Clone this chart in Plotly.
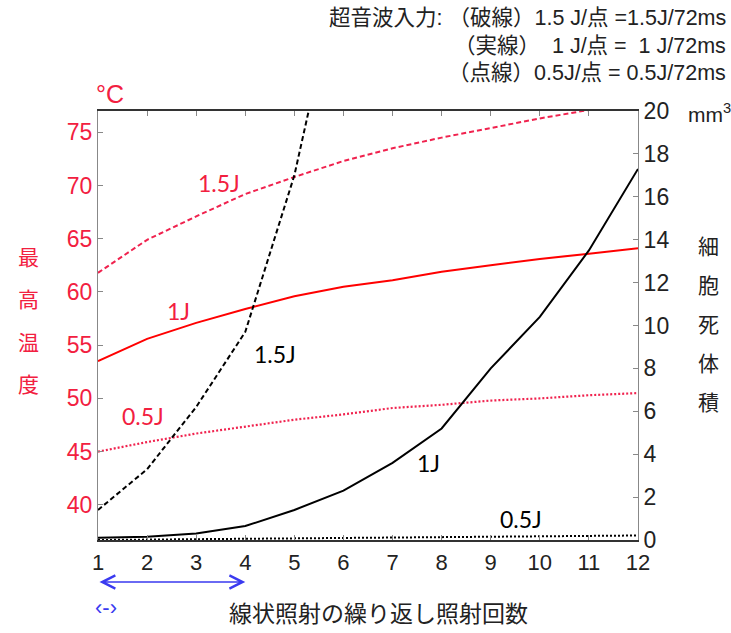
import plotly.graph_objects as go

# ---- data ----
shots = [1, 2, 3, 4, 5, 6, 7, 8, 9, 10, 11, 12]
temp_15J = [61.8, 64.9, 67.1, 69.2, 70.8, 72.3, 73.5, 74.5, 75.4, 76.3, 77.1, 77.8]
temp_10J = [53.5, 55.6, 57.1, 58.4, 59.6, 60.5, 61.1, 61.9, 62.5, 63.1, 63.6, 64.1]
temp_05J = [45.0, 45.9, 46.7, 47.35, 48.0, 48.5, 49.1, 49.4, 49.8, 50.0, 50.3, 50.5]
shots_15J_vol = [1, 2, 3, 4, 5, 6]
vol_15J = [1.4, 3.3, 6.2, 9.7, 17.0, 27.3]
vol_10J = [0.1, 0.15, 0.3, 0.65, 1.4, 2.3, 3.6, 5.2, 8.0, 10.4, 13.5, 17.3]
vol_05J = [0.0, 0.02, 0.04, 0.06, 0.08, 0.09, 0.11, 0.13, 0.15, 0.17, 0.19, 0.21]
temp_ticks = [40, 45, 50, 55, 60, 65, 70, 75]
vol_ticks = [0, 2, 4, 6, 8, 10, 12, 14, 16, 18, 20]

RED = "#ff0000"
PINK = "#f0224e"
LBL = "#f2203f"
NUM = "Liberation Sans, Arial, sans-serif"
JP = "Noto Sans CJK JP"
LAT = "Lato, Open Sans, sans-serif"

fig = go.Figure()
fig.add_trace(go.Scatter(x=shots, y=temp_15J, mode="lines", line=dict(color=PINK, width=2, dash="5px,3px")))
fig.add_trace(go.Scatter(x=shots, y=temp_10J, mode="lines", line=dict(color=RED, width=2)))
fig.add_trace(go.Scatter(x=shots, y=temp_05J, mode="lines", line=dict(color=PINK, width=2.2, dash="2px,2px")))
fig.add_trace(go.Scatter(x=shots_15J_vol, y=vol_15J, mode="lines", yaxis="y2",
                         line=dict(color="black", width=2, dash="5px,3px")))
fig.add_trace(go.Scatter(x=shots, y=vol_10J, mode="lines", yaxis="y2",
                         line=dict(color="black", width=2)))
fig.add_trace(go.Scatter(x=shots, y=vol_05J, mode="lines", yaxis="y2",
                         line=dict(color="black", width=2, dash="2px,2px")))

ann = []
def t(x, y, s, color="black", size=18, font=LAT, xanchor="center", yanchor="middle", xref="paper", yref="paper"):
    ann.append(dict(x=x, y=y, xref=xref, yref=yref, text=s, showarrow=False,
                    font=dict(color=color, size=size, family=font), xanchor=xanchor, yanchor=yanchor))

W, H = 731, 633
L, R, T, B = 98, 93, 111, 93
def ppx(xp): return (xp - L) / (W - L - R)
def ppy(yp): return (H - B - yp) / (H - T - B)

# curve labels
t(ppx(219), ppy(183), "1.5J", LBL, 23)
t(ppx(178), ppy(311), "1J", LBL, 23)
t(ppx(143), ppy(416), "0.5J", LBL, 23)
t(ppx(275), ppy(354), "1.5J", "black", 23)
t(ppx(428), ppy(463), "1J", "black", 23)
t(ppx(521), ppy(519), "0.5J", "black", 23)

# unit labels
t(ppx(110), ppy(94), "°C", LBL, 25, NUM)
t(ppx(709), ppy(113), "mm<sup>3</sup>", "#222", 21, NUM)

# vertical titles
for i, ch in enumerate("最高温度"):
    t(ppx(28), ppy(256 + i * 42.3), ch, LBL, 21, JP)
for i, ch in enumerate("細胞死体積"):
    t(ppx(708), ppy(245 + i * 39), ch, "#222", 21, JP)

# x title
t(ppx(378), ppy(612), "線状照射の繰り返し照射回数", "#222", 23, JP)

# top-right notes
NOTE = NUM + ", " + JP
t(ppx(728), ppy(18), "超音波入力: （破線）1.5 J/点 =1.5J/72ms", "#222", 21.5, NOTE, xanchor="right")
t(ppx(728), ppy(46), "（実線）  1 J/点 =  1 J/72ms", "#222", 21.5, NOTE, xanchor="right")
t(ppx(728), ppy(73), "（点線）0.5J/点 = 0.5J/72ms", "#222", 21.5, NOTE, xanchor="right")

# small blue marker text
t(ppx(106), ppy(607), "‹-›", "#3a3af0", 22, NUM)

# blue double arrow from 1 to 4
ann.append(dict(x=4, y=ppy(582), xref="x", yref="paper", ax=1, ay=0, axref="x", ayref="pixel",
                text="", showarrow=True, arrowhead=5, startarrowhead=5, arrowside="end+start",
                arrowwidth=1.6, arrowsize=1.6, startarrowsize=1.6, arrowcolor="#3a3af0"))

fig.update_layout(
    width=W, height=H,
    margin=dict(l=L, r=R, t=T, b=B),
    paper_bgcolor="white", plot_bgcolor="white",
    showlegend=False,
    annotations=ann,
    xaxis=dict(range=[1, 12], tickvals=shots, ticks="inside", ticklen=5, tickcolor="#888",
               showline=True, linecolor="#333", linewidth=1.5, mirror="ticks", showgrid=False,
               zeroline=False, ticklabelstandoff=2,
               tickfont=dict(family=NUM, size=22, color="#222")),
    yaxis=dict(range=[36.7, 77.0], tickvals=temp_ticks, ticks="inside", ticklen=5, tickcolor="#888",
               showline=True, linecolor="#888", linewidth=1, showgrid=False, zeroline=False,
               tickfont=dict(family=NUM, size=23, color=LBL)),
    yaxis2=dict(range=[0, 20], tickvals=vol_ticks, overlaying="y", side="right", ticks="inside",
                ticklen=5, tickcolor="#888", showline=True, linecolor="#888", linewidth=1,
                showgrid=False, zeroline=False, tickfont=dict(family=NUM, size=23, color="#222")),
)

fig.write_html("out.html", config={"displayModeBar": False},
               post_script="document.body.style.margin='0';document.body.style.padding='0';")
